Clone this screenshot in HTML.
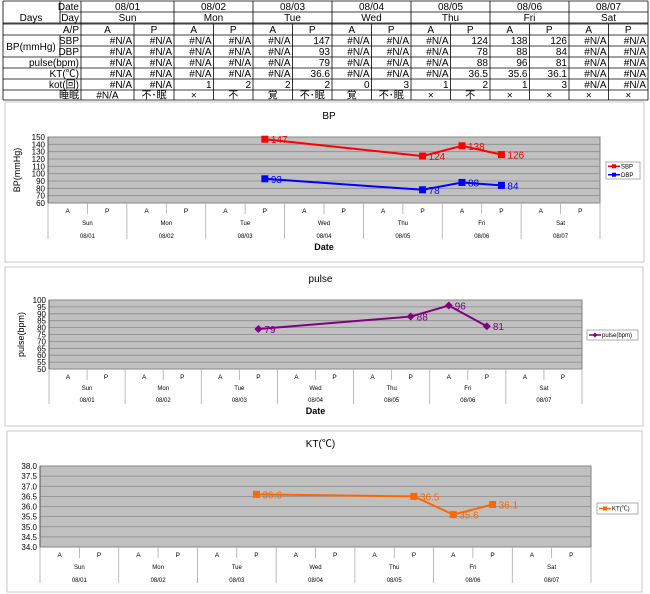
<!DOCTYPE html>
<html><head><meta charset="utf-8">
<style>
html,body{margin:0;padding:0;background:#fff;}
svg{display:block;font-family:"Liberation Sans","Noto Sans CJK JP",sans-serif;}
</style></head>
<body>
<svg id="root" width="650" height="594" viewBox="0 0 650 594" xmlns="http://www.w3.org/2000/svg"></svg>
<script>
// ---- data ----
const dates = ["08/01","08/02","08/03","08/04","08/05","08/06","08/07"];
const days = ["Sun","Mon","Tue","Wed","Thu","Fri","Sat"];
const halves = ["A","P"];
const sbpValues = [null,null,null,null,null,147,null,null,null,124,138,126,null,null];
const dbpValues = [null,null,null,null,null,93,null,null,null,78,88,84,null,null];
const pulseValues = [null,null,null,null,null,79,null,null,null,88,96,81,null,null];
const ktValues = [null,null,null,null,null,36.6,null,null,null,36.5,35.6,36.1,null,null];
const kotValues = [null,null,1,2,2,2,0,3,1,2,1,3,null,null];
const sleepValues = ["#N/A","不･眠","×","不","覚","不･眠","覚","不･眠","×","不","×","×","×","×"];
const bpTicks = [60,70,80,90,100,110,120,130,140,150];
const pulseTicks = [50,55,60,65,70,75,80,85,90,95,100];
const ktTicks = ["34.0","34.5","35.0","35.5","36.0","36.5","37.0","37.5","38.0"];

const NS = "http://www.w3.org/2000/svg";
const root = document.getElementById("root");
function mk(tag, attrs, parent){
  const e = document.createElementNS(NS, tag);
  for (const k in attrs) e.setAttribute(k, attrs[k]);
  (parent||root).appendChild(e);
  return e;
}
function txt(s, attrs, parent){
  const e = mk("text", attrs, parent);
  e.textContent = s;
  return e;
}

// ---- table ----
const tbl = mk("g", {});


const colX = [81,134,174,213.5,253,292.5,332,371.5,411,450.5,490,529.5,569,608.5,648];
const rowY = [1,12,23,24,35,46,57,68,79,90,100];
const L = 3;
const lineStyle = {stroke:"#000","stroke-width":0.8};
// outer/horizontal lines
[1,12,23,24,35,46,57,68,79,90,100].forEach(y=>{
  let x1 = L;
  if (y===12) x1 = 60;
  if (y===46) x1 = 60;
  mk("line", Object.assign({x1:x1,y1:y,x2:648,y2:y}, lineStyle), tbl);
});
mk("line", Object.assign({x1:L,y1:1,x2:L,y2:100}, lineStyle), tbl);
mk("line", Object.assign({x1:60,y1:1,x2:60,y2:23}, lineStyle), tbl);
mk("line", Object.assign({x1:60,y1:35,x2:60,y2:57}, lineStyle), tbl);
colX.forEach((x,i)=>{
  const isDay = (i%2===0);
  mk("line", Object.assign({x1:x,y1:isDay?1:24,x2:x,y2:100}, lineStyle), tbl);
});
const fs = 10;
function cell(s, x, y, anchor, name){
  const t = txt(s, {x:x, y:y, "font-size":fs, "text-anchor":anchor, fill:"#000"}, tbl);
  
  
  return t;
}
cell("Days", 31, 21, "middle", "days-header");
cell("Date", 79, 10, "end", "date-header");
cell("Day", 79, 21, "end", "day-header");
cell("A/P", 79, 33, "end", "ap-header");
cell("BP(mmHg)", 31, 50, "middle", "bp-header");
cell("SBP", 79, 44, "end", "sbp-header");
cell("DBP", 79, 55, "end", "dbp-header");
cell("pulse(bpm)", 79, 66, "end", "pulse-header");
cell("KT(℃)", 79, 77, "end", "kt-header");
cell("kot(回)", 79, 88, "end", "kot-header");
cell("睡眠", 79, 98.5, "end", "sleep-header");
for (let d=0; d<7; d++){
  const cx = (colX[2*d]+colX[2*d+2])/2;
  cell(dates[d], cx, 10, "middle", "date-cell");
  cell(days[d], cx, 21, "middle", "day-cell");
}
function fmt(v, dec){ return v===null ? "#N/A" : (dec ? v.toFixed(1) : String(v)); }
for (let i=0;i<14;i++){
  const x0 = colX[i], x1 = colX[i+1], cx=(x0+x1)/2, rx = x1-2;
  cell(halves[i%2], cx, 33, "middle", "ap-cell");
  cell(fmt(sbpValues[i]), rx, 44, "end", "sbp-cell");
  cell(fmt(dbpValues[i]), rx, 55, "end", "dbp-cell");
  cell(fmt(pulseValues[i]), rx, 66, "end", "pulse-cell");
  cell(fmt(ktValues[i], true), rx, 77, "end", "kt-cell");
  cell(fmt(kotValues[i]), rx, 88, "end", "kot-cell");
  cell(sleepValues[i], cx, 98.5, "middle", "sleep-cell");
}

// ---- charts ----
function drawChart(cfg){
  const g = mk("g", {});
  
  
  const box = mk("rect", {x:cfg.box[0], y:cfg.box[1], width:cfg.box[2]-cfg.box[0], height:cfg.box[3]-cfg.box[1], fill:"#fff", stroke:"#c8c8c8", "stroke-width":1}, g);
  
  
  const t = txt(cfg.title, {x:(cfg.left+cfg.right)/2+5, y:cfg.titleY, "font-size":10, "text-anchor":"middle"}, g);
  
  
  const L0=cfg.left, R0=cfg.right, T0=cfg.top, B0=cfg.bottom;
  const ticks = cfg.ticks.map(Number);
  const mn = ticks[0], mx = ticks[ticks.length-1];
  const yS = v => B0 - (v-mn)/(mx-mn)*(B0-T0);
  const xS = i => L0 + (i+0.5)*(R0-L0)/14;
  const pa = mk("rect", {x:L0, y:T0, width:R0-L0, height:B0-T0, fill:"#c0c0c0", stroke:"#808080", "stroke-width":1}, g);
  
  
  cfg.ticks.forEach(tv=>{
    const y = yS(Number(tv));
    const gl = mk("line", {x1:L0, y1:y, x2:R0, y2:y, stroke:"#8a8a8a", "stroke-width":0.8}, g);
    
    
    const tl = txt(String(tv), {x:L0-3, y:y+3, "font-size":8, "text-anchor":"end"}, g);
    
    
  });
  mk("line", {x1:L0, y1:T0, x2:L0, y2:B0, stroke:"#555", "stroke-width":1}, g);
  // category axis
  const step = (R0-L0)/14;
  for (let i=0;i<=14;i++){
    const x = L0 + i*step;
    const long = i%2===0;
    mk("line", {x1:x, y1:B0, x2:x, y2: long ? B0+cfg.catDepth : B0+11, stroke:"#aaa", "stroke-width":0.8}, g);
  }
  for (let i=0;i<14;i++){
    const a = txt(halves[i%2], {x:xS(i), y:B0+10, "font-size":6.5, "text-anchor":"middle"}, g);
    
    
  }
  for (let d=0; d<7; d++){
    const cx = L0 + (2*d+1)*step;
    const a = txt(days[d], {x:cx, y:B0+cfg.dayDy, "font-size":6, "text-anchor":"middle"}, g);
    
    
    const b = txt(dates[d], {x:cx, y:B0+cfg.dateDy, "font-size":6, "text-anchor":"middle"}, g);
    
    
  }
  if (cfg.xTitle){
    const xt = txt(cfg.xTitle, {x:(L0+R0)/2, y:cfg.xTitleY, "font-size":9, "font-weight":"bold", "text-anchor":"middle"}, g);
    
    
  }
  if (cfg.yTitle){
    const yt = txt(cfg.yTitle, {x:0, y:0, "font-size":9, "text-anchor":"middle", transform:`translate(${cfg.yTitleX},${(T0+B0)/2}) rotate(-90)`}, g);
    
    
  }
  cfg.series.forEach(s=>{
    const pts = [];
    s.values.forEach((v,i)=>{ if (v!==null) pts.push([xS(i), yS(v), v]); });
    const pl = mk("polyline", {points: pts.map(p=>p[0]+","+p[1]).join(" "), fill:"none", stroke:s.color, "stroke-width":2}, g);
    
    
    pts.forEach(p=>{
      let m;
      if (s.marker==="diamond"){
        m = mk("polygon", {points:`${p[0]},${p[1]-4} ${p[0]+4},${p[1]} ${p[0]},${p[1]+4} ${p[0]-4},${p[1]}`, fill:s.color}, g);
      } else {
        m = mk("rect", {x:p[0]-3.5, y:p[1]-3.5, width:7, height:7, fill:s.color}, g);
      }
      
      
      const lb = txt(s.dec ? p[2].toFixed(1) : String(p[2]), {x:p[0]+6, y:p[1]+4, "font-size":10, fill:s.color}, g);
      
      
    });
  });
  // legend
  const lg = mk("g", {}, g);
  
  
  const lb = cfg.legend;
  mk("rect", {x:lb[0], y:lb[1], width:lb[2]-lb[0], height:lb[3]-lb[1], fill:"#fff", stroke:"#999", "stroke-width":0.8}, lg);
  const n = cfg.series.length;
  cfg.series.forEach((s,k)=>{
    const y = lb[1] + (k+0.5)*(lb[3]-lb[1])/n;
    const e = mk("g", {}, lg);
    
    
    mk("line", {x1:lb[0]+2, y1:y, x2:lb[0]+14, y2:y, stroke:s.color, "stroke-width":1.5}, e);
    if (s.marker==="diamond") mk("polygon", {points:`${lb[0]+8},${y-2.5} ${lb[0]+10.5},${y} ${lb[0]+8},${y+2.5} ${lb[0]+5.5},${y}`, fill:s.color}, e);
    else mk("rect", {x:lb[0]+6, y:y-2, width:4, height:4, fill:s.color}, e);
    txt(s.label, {x:lb[0]+15, y:y+2.2, "font-size":6}, e);
  });
}

drawChart({name:"bp-chart", title:"BP", titleY:119, box:[5,102,644,262],
  left:48, right:600, top:137, bottom:203, ticks:bpTicks,
  catDepth:36, dayDy:22, dateDy:35, xTitle:"Date", xTitleY:250, yTitle:"BP(mmHg)", yTitleX:20,
  legend:[606,162,640,179],
  series:[{key:"sbp", label:"SBP", values:sbpValues, color:"#ff0000", marker:"square"},
          {key:"dbp", label:"DBP", values:dbpValues, color:"#0000ff", marker:"square"}]});
drawChart({name:"pulse-chart", title:"pulse", titleY:282, box:[5,267,643,426],
  left:49, right:582, top:300, bottom:369, ticks:pulseTicks,
  catDepth:35, dayDy:21, dateDy:33, xTitle:"Date", xTitleY:414, yTitle:"pulse(bpm)", yTitleX:24,
  legend:[587,330,638,340],
  series:[{key:"pulse", label:"pulse(bpm)", values:pulseValues, color:"#800080", marker:"diamond"}]});
drawChart({name:"kt-chart", title:"KT(℃)", titleY:447, box:[7,431,642,592],
  left:40, right:591, top:466, bottom:547, ticks:ktTicks,
  catDepth:36, dayDy:22, dateDy:35, xTitle:null, yTitle:null,
  legend:[597,503,638,514],
  series:[{key:"kt", label:"KT(℃)", values:ktValues, color:"#ff6600", marker:"square", dec:true}]});
</script>
</body></html>
